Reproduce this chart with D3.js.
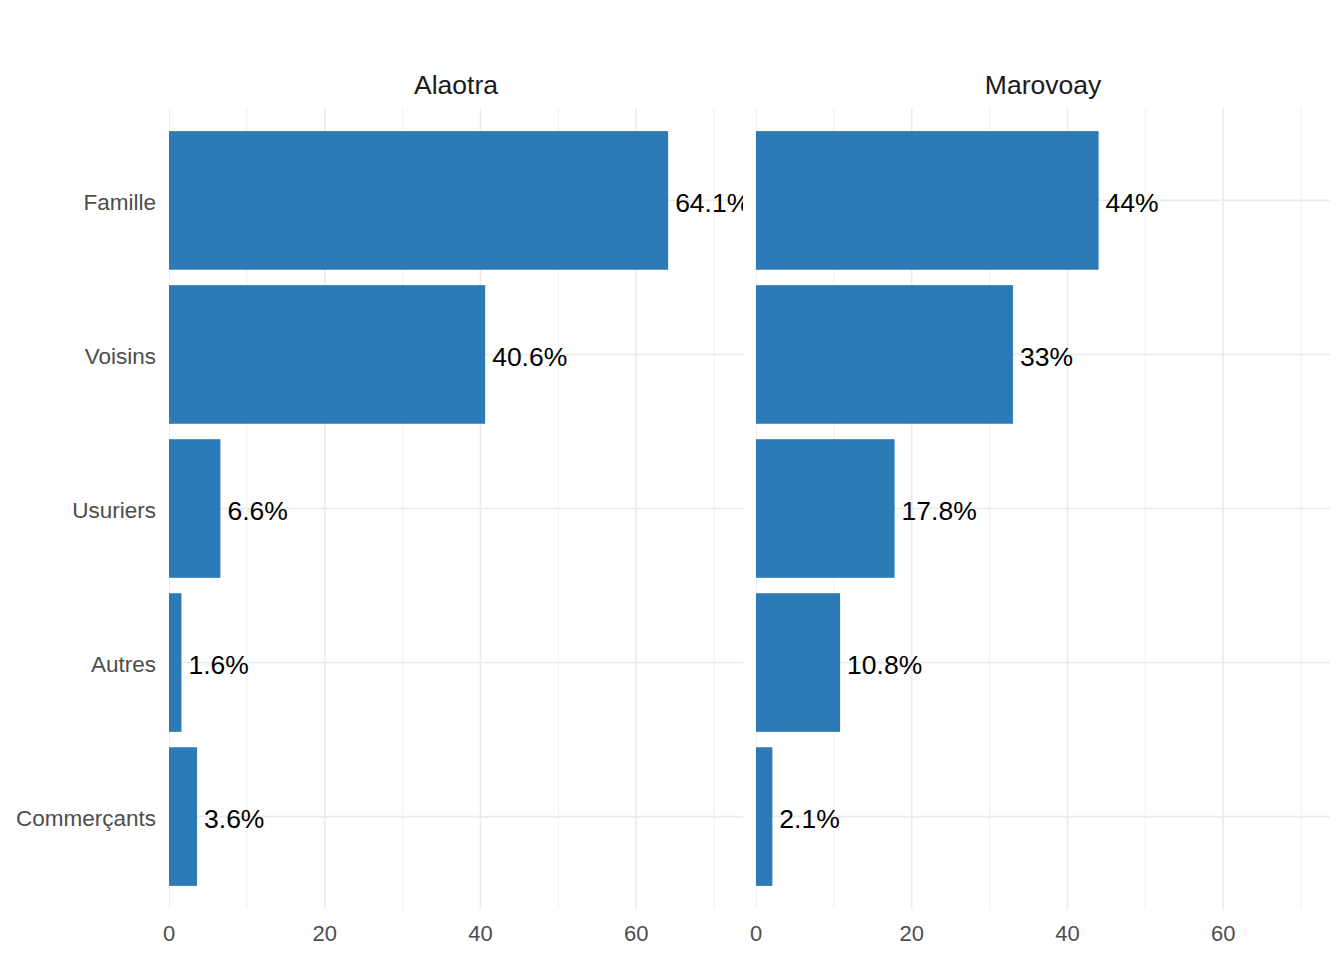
<!DOCTYPE html>
<html>
<head>
<meta charset="utf-8">
<script src="https://cdn.jsdelivr.net/npm/d3@7"></script>
<style>
  body { margin: 0; background: #fff; }
  svg { display: block; font-family: "Liberation Sans", Arial, sans-serif; }
</style>
</head>
<body>
<div id="chart"></div>
<script>
  // Sources de crédit par zone (%)
  const categories = ["Famille", "Voisins", "Usuriers", "Autres", "Commerçants"];
  const regions = ["Alaotra", "Marovoay"];
  const alaotra = [64.1, 40.6, 6.6, 1.6, 3.6];
  const marovoay = [44, 33, 17.8, 10.8, 2.1];
  const xTicks = [0, 20, 40, 60];
  const xMinor = [10, 30, 50, 70];

  const series = { Alaotra: alaotra, Marovoay: marovoay };

  const width = 1344, height = 960;
  const panelTop = 108, panelBottom = 909;
  const panels = [
    { name: "Alaotra", x0: 169, x1: 743 },
    { name: "Marovoay", x0: 756, x1: 1330 }
  ];
  const barColor = "#2C7BB6";
  const gridColor = "#EBEBEB";

  const maxVal = d3.max([...alaotra, ...marovoay]);

  const svg = d3.select("#chart").append("svg")
    .attr("width", width)
    .attr("height", height);

  // y discret, expansion 0.6 unité de chaque côté
  const y = d3.scalePoint()
    .domain(categories)
    .range([panelTop, panelBottom])
    .padding(0.6);
  const step = y.step();
  const barH = step * 0.9;

  panels.forEach((p, pi) => {
    const x = d3.scaleLinear()
      .domain([0, maxVal * 1.15])
      .range([p.x0, p.x1]);

    const g = svg.append("g");
    const clipId = "clip" + pi;
    svg.append("clipPath").attr("id", clipId)
      .append("rect")
      .attr("x", p.x0).attr("y", panelTop)
      .attr("width", p.x1 - p.x0).attr("height", panelBottom - panelTop);

    const inner = g.append("g").attr("clip-path", `url(#${clipId})`);

    // grille mineure
    inner.append("g").selectAll("line")
      .data(xMinor)
      .join("line")
      .attr("x1", d => x(d)).attr("x2", d => x(d))
      .attr("y1", panelTop).attr("y2", panelBottom)
      .attr("stroke", gridColor).attr("stroke-width", 0.8);

    // grille majeure
    inner.append("g").selectAll("line")
      .data(xTicks)
      .join("line")
      .attr("x1", d => x(d)).attr("x2", d => x(d))
      .attr("y1", panelTop).attr("y2", panelBottom)
      .attr("stroke", gridColor).attr("stroke-width", 1.6);

    inner.append("g").selectAll("line")
      .data(categories)
      .join("line")
      .attr("x1", p.x0).attr("x2", p.x1)
      .attr("y1", d => y(d)).attr("y2", d => y(d))
      .attr("stroke", gridColor).attr("stroke-width", 1.6);

    const vals = series[p.name];
    const rows = categories.map((c, i) => ({ cat: c, v: vals[i] }));

    inner.append("g").selectAll("rect")
      .data(rows)
      .join("rect")
      .attr("x", x(0))
      .attr("y", d => y(d.cat) - barH / 2)
      .attr("width", d => x(d.v) - x(0))
      .attr("height", barH)
      .attr("fill", barColor);

    inner.append("g").selectAll("text")
      .data(rows)
      .join("text")
      .attr("x", d => x(d.v + 0.9))
      .attr("y", d => y(d.cat) + 2)
      .attr("dy", "0.36em")
      .attr("font-size", "26.5px")
      .attr("fill", "#000")
      .text(d => d.v + "%");

    // axe x
    g.append("g").selectAll("text")
      .data(xTicks)
      .join("text")
      .attr("x", d => x(d))
      .attr("y", 941)
      .attr("text-anchor", "middle")
      .attr("font-size", "22px")
      .attr("fill", "#4D4D4D")
      .text(d => d);

    // titre du panneau
    g.append("text")
      .attr("x", (p.x0 + p.x1) / 2)
      .attr("y", 94)
      .attr("text-anchor", "middle")
      .attr("font-size", "26.5px")
      .attr("fill", "#1A1A1A")
      .text(p.name);
  });

  // libellés des catégories
  svg.append("g").selectAll("text")
    .data(categories)
    .join("text")
    .attr("x", 156)
    .attr("y", d => y(d) + 1)
    .attr("dy", "0.36em")
    .attr("text-anchor", "end")
    .attr("font-size", "22.5px")
    .attr("fill", "#4D4D4D")
    .text(d => d);
</script>
</body>
</html>
